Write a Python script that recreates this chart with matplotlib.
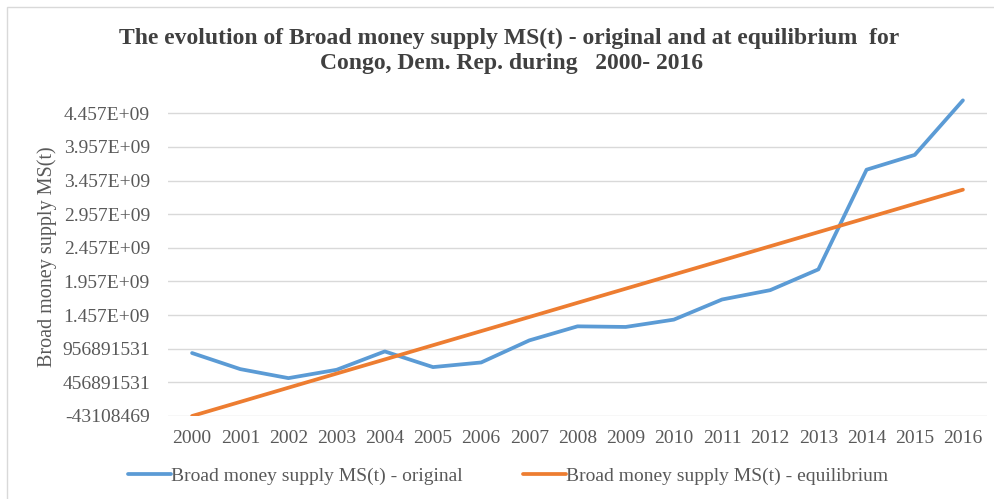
import matplotlib
matplotlib.use("Agg")
import matplotlib.pyplot as plt
from matplotlib.patches import Rectangle

years = ["2000", "2001", "2002", "2003", "2004", "2005", "2006", "2007", "2008",
         "2009", "2010", "2011", "2012", "2013", "2014", "2015", "2016"]
original = [893e6, 654e6, 520e6, 644e6, 917e6, 684e6, 753e6, 1081e6, 1290e6,
            1281e6, 1390e6, 1689e6, 1828e6, 2137e6, 3619e6, 3839e6, 4650e6]
equilibrium = [-43108469, 167e6, 378e6, 588e6, 798e6, 1009e6, 1219e6, 1429e6, 1640e6,
               1850e6, 2060e6, 2270e6, 2481e6, 2691e6, 2901e6, 3112e6, 3322e6]
ytick_vals = [-43108469, 456891531, 956891531, 1457e6, 1957e6, 2457e6,
              2957e6, 3457e6, 3957e6, 4457e6]
ytick_labels = ["-43108469", "456891531", "956891531", "1.457E+09", "1.957E+09",
                "2.457E+09", "2.957E+09", "3.457E+09", "3.957E+09", "4.457E+09"]

plt.rcParams['font.family'] = ['Liberation Serif', 'DejaVu Serif']
W, H = 995, 499
fig = plt.figure(figsize=(W / 100, H / 100), dpi=100)
fig.patch.set_facecolor("white")

# chart border
fig.add_artist(Rectangle((7 / W, -0.01), 1.1, 1 - 7 / H + 0.01, transform=fig.transFigure,
                         fill=False, edgecolor="#d9d9d9", linewidth=1))

ax = fig.add_axes([168 / W, (H - 416) / H, (987 - 168) / W, (416 - 97) / H])
x = list(range(len(years)))
ax.plot(x, original, color="#5b9bd5", linewidth=2.7, solid_capstyle="round",
        label="Broad money supply MS(t) - original", zorder=3)
ax.plot(x, equilibrium, color="#ed7d31", linewidth=2.7, solid_capstyle="round",
        label="Broad money supply MS(t) - equilibrium", zorder=3)

ax.set_xlim(-0.5, 16.5)
ax.set_ylim(-43108469, 4.7e9)
ax.set_xticks(x)
ax.set_xticklabels(years)
ax.set_yticks(ytick_vals)
ax.set_yticklabels(ytick_labels)
ax.tick_params(axis="both", length=0, labelsize=14, colors="#595959")
ax.tick_params(axis="y", pad=13)
ax.tick_params(axis="x", pad=10)
for s in ax.spines.values():
    s.set_visible(False)
ax.grid(axis="y", color="#d9d9d9", linewidth=1)
ax.set_axisbelow(True)
ax.set_ylabel("Broad money supply MS(t)", fontsize=14.5, color="#595959", labelpad=4)

fig.text(509 / W, 1 - 38 / H, "The evolution of Broad money supply MS(t) - original and at equilibrium  for",
         ha="center", va="center", fontsize=17, fontweight="bold", color="#404040")
fig.text(512 / W, 1 - 63 / H, "Congo, Dem. Rep. during   2000- 2016",
         ha="center", va="center", fontsize=17, fontweight="bold", color="#404040")

leg = fig.legend(loc="center", bbox_to_anchor=(508 / W, 1 - 476 / H), ncol=2,
                 frameon=False, fontsize=14, handlelength=2.2, columnspacing=3.1,
                 handletextpad=0.0)
for t in leg.get_texts():
    t.set_color("#595959")

fig.savefig("out.png", dpi=100)
